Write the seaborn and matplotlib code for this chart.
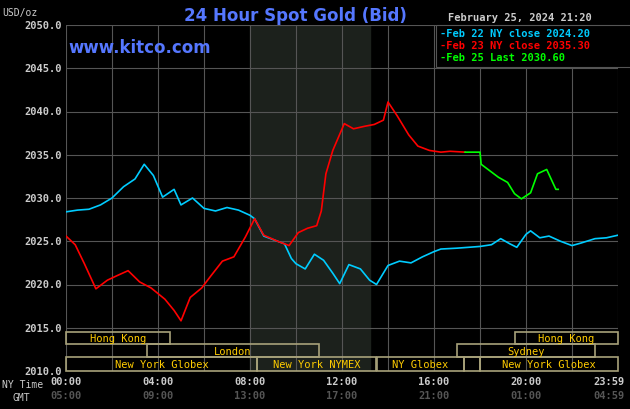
import matplotlib
matplotlib.use("Agg")
import matplotlib.pyplot as plt
import seaborn as sns
import pandas as pd
from matplotlib.patches import Rectangle

cyan_h = [0,0.5,1,1.5,2,2.5,3,3.4,3.8,4.2,4.7,5,5.5,6,6.5,7,7.5,8,8.2,8.6,9,9.5,9.8,10,10.4,10.8,11.2,11.6,11.9,12.3,12.8,13.2,13.5,14,14.5,15,15.5,16,16.3,17,17.5,18,18.5,18.9,19.3,19.6,20,20.2,20.6,21,21.5,22,22.4,23,23.5,24]
cyan_v = [2028.4,2028.6,2028.7,2029.2,2030.0,2031.3,2032.2,2033.9,2032.6,2030.1,2031.0,2029.2,2030.0,2028.8,2028.5,2028.9,2028.6,2028.0,2027.6,2025.6,2025.2,2024.7,2023.0,2022.4,2021.8,2023.5,2022.8,2021.3,2020.1,2022.3,2021.8,2020.5,2020.0,2022.2,2022.7,2022.5,2023.2,2023.8,2024.1,2024.2,2024.3,2024.4,2024.6,2025.3,2024.7,2024.3,2025.8,2026.2,2025.4,2025.6,2025.0,2024.5,2024.8,2025.3,2025.4,2025.7]

red_h = [0,0.4,0.8,1.3,1.8,2.2,2.7,3.2,3.7,4.3,4.7,5.0,5.4,5.9,6.3,6.8,7.3,7.8,8.2,8.6,9.2,9.7,10.1,10.5,10.9,11.1,11.3,11.6,12.1,12.5,13.0,13.4,13.8,14.0,14.4,14.9,15.3,15.8,16.3,16.7,17.35]
red_v = [2025.6,2024.6,2022.4,2019.5,2020.5,2021.0,2021.6,2020.3,2019.6,2018.3,2017.0,2015.8,2018.5,2019.6,2021.0,2022.7,2023.2,2025.5,2027.6,2025.7,2025.0,2024.5,2026.0,2026.5,2026.8,2028.5,2032.8,2035.5,2038.6,2038.0,2038.3,2038.5,2039.0,2041.1,2039.5,2037.3,2036.0,2035.5,2035.3,2035.4,2035.3]

green_h = [17.35,18.0,18.05,18.4,18.8,19.2,19.5,19.8,20.2,20.5,20.9,21.3,21.4]
green_v = [2035.3,2035.3,2033.9,2033.2,2032.4,2031.8,2030.5,2029.9,2030.6,2032.8,2033.3,2031.0,2031.0]

yticks = [2010,2015,2020,2025,2030,2035,2040,2045,2050]
xtick_ny = ["00:00","04:00","08:00","12:00","16:00","20:00","23:59"]
xtick_gmt = ["05:00","09:00","13:00","17:00","21:00","01:00","04:59"]
sessions = [  # (label, start, end, row)
    ("New York Globex", 0, 8.3, 0), ("New York NYMEX", 8.3, 13.5, 0),
    ("NY Globex", 13.5, 17.3, 0), ("", 17.3, 18.0, 0), ("New York Globex", 18.0, 24, 0),
    ("London", 3.5, 11.0, 1), ("Sydney", 17.0, 23.0, 1),
    ("Hong Kong", 0, 4.5, 2), ("Hong Kong", 19.5, 24, 2)]
legend_txt = ["Feb 22 NY close 2024.20", "Feb 23 NY close 2035.30", "Feb 25 Last 2030.60"]
colors = ["#00ccff", "#ff0000", "#00ff00"]

mono = "DejaVu Sans Mono"
fig = plt.figure(figsize=(6.3, 4.1), dpi=100, facecolor="black")
ax = fig.add_axes([66/630, 38/410, 552/630, 346/410], facecolor="black")
ax.set_xlim(0, 24); ax.set_ylim(2010, 2050)
ax.axvspan(8.0, 13.2, color="#1c211c", zorder=0)
for x in range(0, 25, 2):
    ax.axvline(x, color="#555555", lw=0.8, zorder=1)
for y in yticks:
    ax.axhline(y, color="#555555", lw=0.8, zorder=1)

df = pd.concat([pd.DataFrame({"h": cyan_h, "v": cyan_v, "s": "a"}),
                pd.DataFrame({"h": red_h, "v": red_v, "s": "b"}),
                pd.DataFrame({"h": green_h, "v": green_v, "s": "c"})])
sns.lineplot(data=df, x="h", y="v", hue="s", palette=colors, legend=False,
             estimator=None, sort=False, lw=1.2, ax=ax, zorder=3)

rows = [(2010, 2011.6), (2011.6, 2013.1), (2013.1, 2014.5)]
for lab, s, e, r in sessions:
    y0, y1 = rows[r]
    ax.add_patch(Rectangle((s, y0), e - s, y1 - y0, fill=False,
                           ec="#a8a27a", lw=1.2, zorder=4, clip_on=False))
    if lab:
        ax.text((s + e) / 2, (y0 + y1) / 2, lab, color="#ffcc00", fontsize=7.5,
                family=mono, ha="center", va="center", zorder=5)

for s in ax.spines.values():
    s.set_visible(False)
ax.set_xticks([]); ax.set_yticks([])
ax.set_xlabel(""); ax.set_ylabel("")
for y in yticks:
    ax.text(-0.2, y, f"{y:.1f}", color="#cccccc", fontsize=7.5, family=mono,
            fontweight="bold", ha="right", va="center", clip_on=False)
xpos = [0, 4, 8, 12, 16, 20, 24]
for x, a, b in zip(xpos, xtick_ny, xtick_gmt):
    ha = "center"
    if x == 24:
        x, ha = 24.3, "right"
    ax.text(x, 2008.9, a, color="#cccccc", fontsize=7.5, family=mono, fontweight="bold",
            ha=ha, va="center", clip_on=False)
    ax.text(x, 2007.2, b, color="#555555", fontsize=7.5, family=mono, fontweight="bold",
            ha=ha, va="center", clip_on=False)
fig.text(2/630, 1-385/410, "NY Time", color="#cccccc", fontsize=7, family=mono, va="center")
fig.text(12/630, 1-398/410, "GMT", color="#cccccc", fontsize=7, family=mono, va="center")
fig.text(2/630, 1-13/410, "USD/oz", color="#cccccc", fontsize=7, family=mono, va="center")
fig.text(295/630, 1-16/410, "24 Hour Spot Gold (Bid)", color="#5577ff", fontsize=12,
         family="DejaVu Sans", fontweight="bold", ha="center", va="center")
fig.text(68/630, 1-48/410, "www.kitco.com", color="#5577ff", fontsize=12,
         family="DejaVu Sans", fontweight="bold", va="center")
fig.text(520/630, 1-18/410, "February 25, 2024 21:20", color="#cccccc", fontsize=7.5,
         family=mono, fontweight="bold", ha="center", va="center")
ax.add_patch(Rectangle((16.1, 2045.1), 8.5, 4.9, fc="black", ec="#555555", lw=0.8,
                       zorder=6, clip_on=False))
for i, (t, c) in enumerate(zip(legend_txt, colors)):
    fig.text(440/630, 1-(34+12*i)/410, "-" + t, color=c, fontsize=7.5, family=mono,
             fontweight="bold", va="center")
fig.savefig("out.png", dpi=100, facecolor="black")
